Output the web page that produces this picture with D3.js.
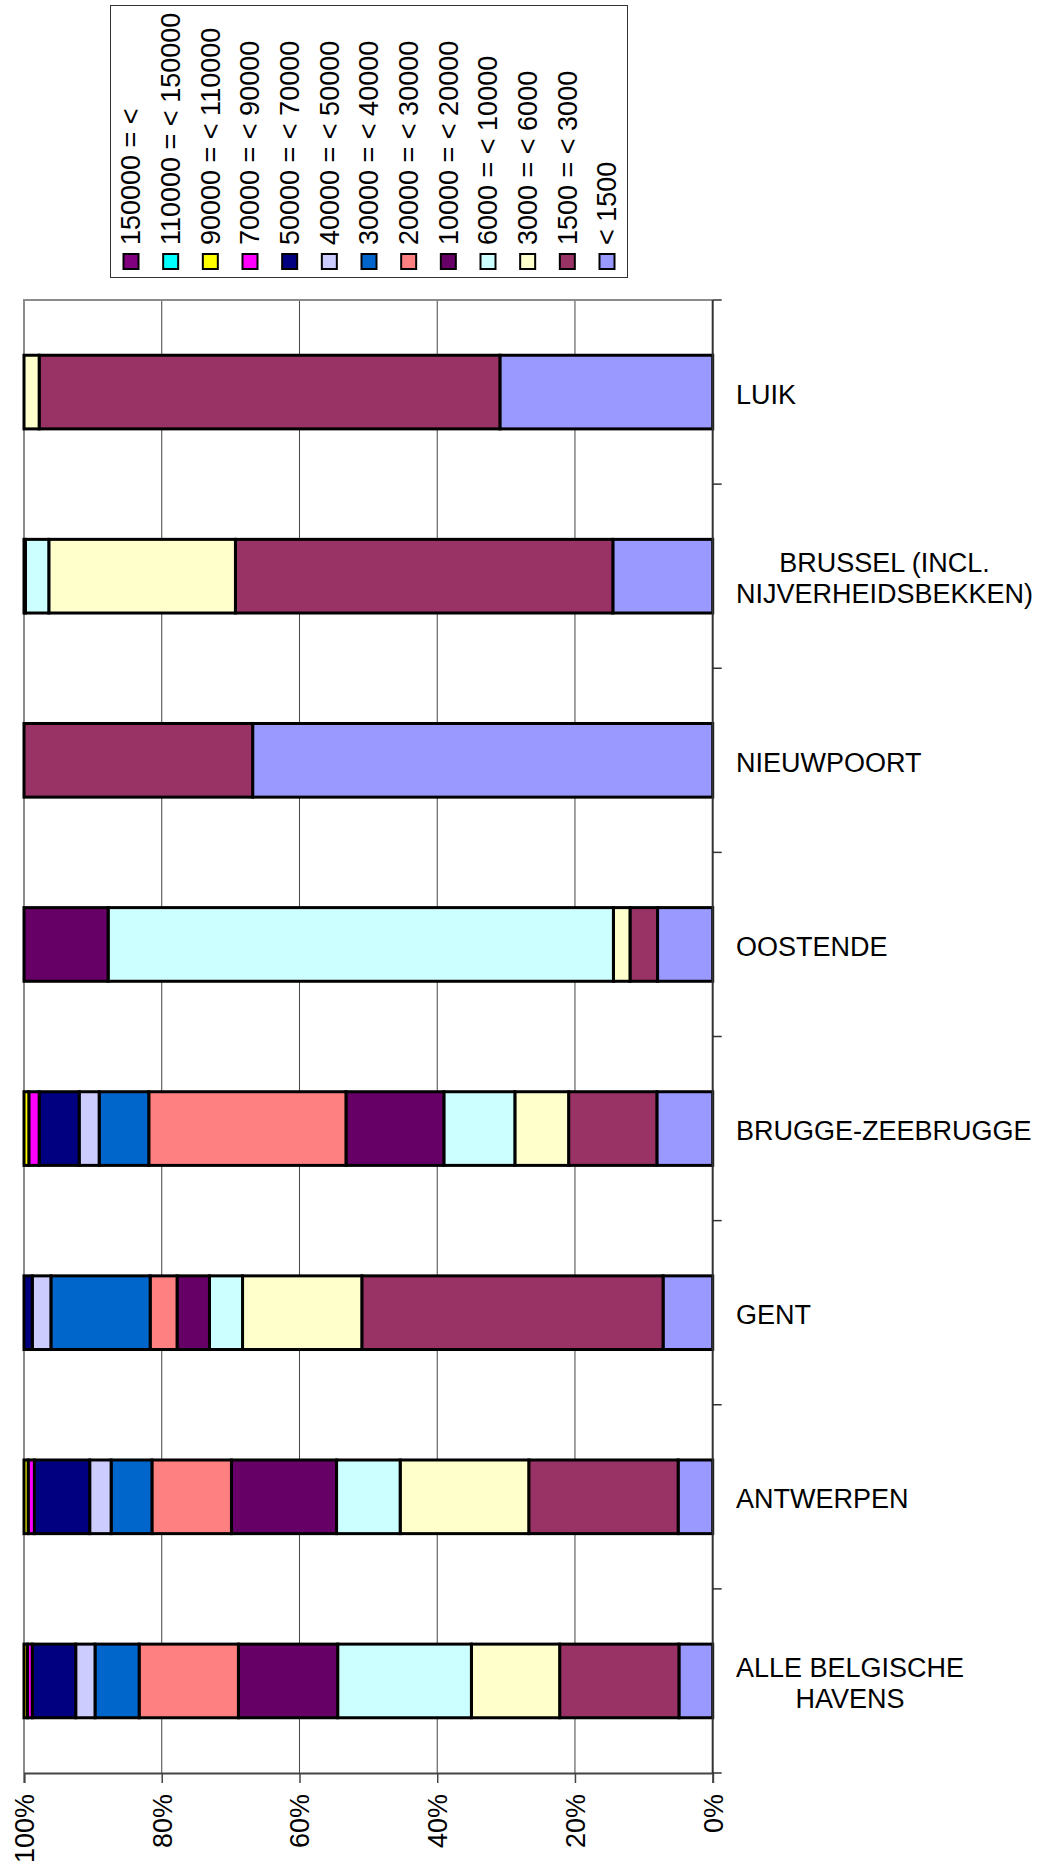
<!DOCTYPE html>
<html>
<head>
<meta charset="utf-8">
<script src="https://cdn.jsdelivr.net/npm/d3@7"></script>
<style>
  body { margin: 0; background: #fff; }
  svg { display: block; font-family: Arial, "Liberation Sans", sans-serif; }
</style>
</head>
<body>
<svg id="chart"></svg>
<script>
// categories, top to bottom
const categories = [
  ['LUIK'],
  ['BRUSSEL (INCL.', 'NIJVERHEIDSBEKKEN)'],
  ['NIEUWPOORT'],
  ['OOSTENDE'],
  ['BRUGGE-ZEEBRUGGE'],
  ['GENT'],
  ['ANTWERPEN'],
  ['ALLE BELGISCHE', 'HAVENS']
];

// series, in legend order
const seriesNames = [
  '150000 = <', '110000 = < 150000', '90000 = < 110000', '70000 = < 90000',
  '50000 = < 70000', '40000 = < 50000', '30000 = < 40000', '20000 = < 30000',
  '10000 = < 20000', '6000 = < 10000', '3000 = < 6000', '1500 = < 3000', '< 1500'
];
const seriesColors = [
  '#800080', '#00ffff', '#ffff00', '#ff00ff', '#000080', '#ccccff', '#0066cc',
  '#ff8080', '#660066', '#ccffff', '#ffffcc', '#993366', '#9999ff'
];

// share per port (%), same order as seriesNames
const luik       = [0, 0, 0, 0, 0, 0, 0, 0, 0, 0, 2.2, 66.9, 30.9];
const brussel    = [0, 0, 0, 0, 0, 0, 0, 0, 0.2, 3.4, 27.1, 54.8, 14.5];
const nieuwpoort = [0, 0, 0, 0, 0, 0, 0, 0, 0, 0, 0, 33.2, 66.8];
const oostende   = [0, 0, 0, 0, 0, 0, 0, 0, 12.2, 73.3, 2.4, 4.0, 8.0];
const brugge     = [0, 0, 0.7, 1.5, 5.8, 2.9, 7.2, 28.6, 14.2, 10.3, 7.8, 12.8, 8.1];
const gent       = [0, 0, 0, 0, 1.2, 2.7, 14.4, 3.9, 4.7, 4.8, 17.3, 43.7, 7.2];
const antwerpen  = [0, 0, 0.6, 0.9, 8.0, 3.1, 5.9, 11.5, 15.2, 9.2, 18.6, 21.6, 5.0];
const alle       = [0, 0, 0.5, 0.7, 6.3, 2.8, 6.4, 14.4, 14.4, 19.4, 12.8, 17.3, 4.9];
const rows = [luik, brussel, nieuwpoort, oostende, brugge, gent, antwerpen, alle];

const xTicks = [0, 0.2, 0.4, 0.6, 0.8, 1];

const width = 1039, height = 1862;
const margin = { left: 24, right: 326.3, top: 300, bottom: 89 };
const fontSize = 27;

const svg = d3.select('#chart').attr('width', width).attr('height', height);

const table = rows.map((r, i) => {
  const o = { cat: i };
  seriesNames.forEach((s, j) => { o[s] = r[j]; });
  return o;
});

const x = d3.scaleLinear()
  .domain([0, 1])
  .range([width - margin.right, margin.left]);
const y = d3.scaleBand()
  .domain(d3.range(categories.length))
  .range([margin.top, height - margin.bottom])
  .paddingInner(0.6)
  .paddingOuter(0.3);

// stack from the smallest class (right, 0%) to the largest (left, 100%)
const stackKeys = seriesNames.slice().reverse();
const stacked = d3.stack().keys(stackKeys).offset(d3.stackOffsetExpand)(table);

// grid lines
svg.append('g')
  .selectAll('line')
  .data(xTicks.filter(t => t > 0 && t < 1))
  .enter()
  .append('line')
  .attr('x1', d => x(d)).attr('x2', d => x(d))
  .attr('y1', margin.top).attr('y2', height - margin.bottom)
  .attr('stroke', '#444').attr('stroke-width', 1);

// plot border (top and left)
svg.append('path')
  .attr('d', `M${x(1)},${height - margin.bottom}V${margin.top}H${x(0)}`)
  .attr('fill', 'none').attr('stroke', '#8c8c8c').attr('stroke-width', 2);

// bars
svg.append('g')
  .selectAll('g')
  .data(stacked)
  .enter()
  .append('g')
  .attr('fill', d => seriesColors[seriesNames.indexOf(d.key)])
  .selectAll('rect')
  .data(d => d.filter(p => p[1] - p[0] > 0))
  .enter()
  .append('rect')
  .attr('x', d => x(d[1]))
  .attr('y', d => y(d.data.cat))
  .attr('width', d => x(d[0]) - x(d[1]))
  .attr('height', y.bandwidth())
  .attr('stroke', '#000')
  .attr('stroke-width', 3);

// value axis (bottom)
const xAxis = svg.append('g')
  .attr('transform', `translate(0,${height - margin.bottom})`)
  .call(d3.axisBottom(x).tickValues(xTicks).tickFormat(d3.format('.0%')).tickSizeOuter(0).tickSize(10));
xAxis.select('.domain').attr('stroke', '#444').attr('stroke-width', 2);
xAxis.selectAll('.tick line').attr('stroke', '#444').attr('stroke-width', 1.5);
xAxis.selectAll('.tick text')
  .attr('font-size', fontSize)
  .attr('font-family', 'Arial, "Liberation Sans", sans-serif')
  .attr('fill', '#000')
  .attr('text-anchor', 'end')
  .attr('transform', 'rotate(-90)')
  .attr('x', -21)
  .attr('y', 0)
  .attr('dy', '0.35em');

// category axis (right)
const axisX = x(0);
const boundaries = d3.range(categories.length + 1).map(i => y.range()[0] + i * y.step());
svg.append('line')
  .attr('x1', axisX).attr('x2', axisX)
  .attr('y1', margin.top).attr('y2', height - margin.bottom)
  .attr('stroke', '#333').attr('stroke-width', 2);
svg.append('g')
  .selectAll('line')
  .data(boundaries)
  .enter()
  .append('line')
  .attr('x1', axisX).attr('x2', axisX + 9)
  .attr('y1', d => d).attr('y2', d => d)
  .attr('stroke', '#333').attr('stroke-width', 1.5);

const labelLeft = 736;
const lineHeight = 31;
const labels = svg.append('g')
  .selectAll('text')
  .data(categories)
  .enter()
  .append('text')
  .attr('font-size', fontSize)
  .attr('fill', '#000')
  .attr('text-anchor', 'middle')
  .attr('y', (d, i) => y(i) + y.bandwidth() / 2 + 2);
labels.each(function (lines) {
  const t = d3.select(this);
  const base = +t.attr('y') - (lines.length - 1) * lineHeight / 2 + fontSize * 0.35;
  lines.forEach((l, k) => {
    t.append('tspan').attr('y', base + k * lineHeight).text(l);
  });
  let maxW = 0;
  t.selectAll('tspan').each(function () { maxW = Math.max(maxW, this.getComputedTextLength()); });
  t.selectAll('tspan').attr('x', labelLeft + maxW / 2);
});

// legend
const legend = svg.append('g');
legend.append('rect')
  .attr('x', 110.5).attr('y', 5.5)
  .attr('width', 517).attr('height', 272)
  .attr('fill', '#fff').attr('stroke', '#333').attr('stroke-width', 1);
const lx = d3.scalePoint().domain(seriesNames).range([131, 607]);
const items = legend.selectAll('g.item')
  .data(seriesNames)
  .enter()
  .append('g')
  .attr('class', 'item')
  .attr('transform', d => `translate(${lx(d)},0)`);
items.append('rect')
  .attr('x', -7.5).attr('y', 254)
  .attr('width', 15).attr('height', 15)
  .attr('fill', (d, i) => seriesColors[i])
  .attr('stroke', '#000').attr('stroke-width', 2);
items.append('text')
  .attr('transform', 'translate(0,245) rotate(-90)')
  .attr('dy', '0.35em')
  .attr('font-size', fontSize)
  .attr('fill', '#000')
  .text(d => d);
</script>
</body>
</html>
